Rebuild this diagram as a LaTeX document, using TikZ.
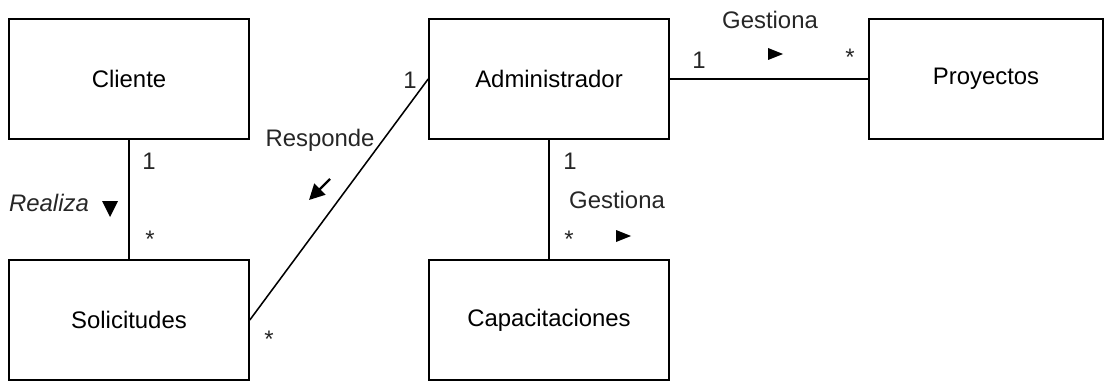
\documentclass[tikz,border=0pt]{standalone}
\usepackage{fontspec}
\setmainfont{Liberation Sans}
\usetikzlibrary{positioning,arrows.meta}

\tikzset{
    clase/.style={draw, line width=1.1pt, minimum width=6cm, minimum height=3cm, inner sep=0pt},
    rel/.style={line width=1.1pt},
    etiq/.style={inner sep=0pt, text=black!85}
}

\begin{document}
\begin{tikzpicture}[x=0.025cm, y=-0.025cm, font=\fontsize{17}{20}\selectfont]
    \useasboundingbox (0,0) rectangle (1104,381);

    % Classes
    \node[clase] (cliente) at (129,79) {Cliente};
    \node[clase] (solicitudes) at (129,320) {Solicitudes};
    \node[clase] (admin) at (549,79) {Administrador};
    \node[clase] (capacitaciones) at (549,320) {Capacitaciones};
    \node[clase, minimum width=5.85cm] (proyectos) at (986,79) {Proyectos};

    % Associations
    \draw[rel] (cliente) -- (solicitudes);
    \draw[rel] (solicitudes.east) -- (admin.west);
    \draw[rel] (admin) -- (capacitaciones);
    \draw[rel] (admin) -- (proyectos);

    % Cliente - Solicitudes
    \node[etiq] (m1) at (149,161) {1};
    \node[etiq] (m2) at (150,239) {*};
    \node[etiq] (realiza) at (49,203) {\itshape Realiza};
    \fill (102,201) -- (118,201) -- (110,217) -- cycle; % direction

    % Solicitudes - Administrador
    \node[etiq] (responde) at (320,140) {Responde};
    \node[etiq] (m3) at (410,80) {1};
    \node[etiq] (m4) at (269,339) {*};
    \draw[line width=1.6pt, -{Triangle[length=11pt,width=11pt]}] (330,179) -- (309,200);

    % Administrador - Capacitaciones
    \node[etiq] (m5) at (570,161) {1};
    \node[etiq] (gestiona1) at (617,200) {Gestiona};
    \node[etiq] (m6) at (569,239) {*};
    \fill (616,230) -- (631,236) -- (616,242) -- cycle;

    % Administrador - Proyectos
    \node[etiq] (gestiona2) at (770,20) {Gestiona};
    \node[etiq] (m7) at (699,60) {1};
    \node[etiq] (m8) at (850,57) {*};
    \fill (768,48) -- (783,54) -- (768,60) -- cycle;
\end{tikzpicture}
\end{document}
